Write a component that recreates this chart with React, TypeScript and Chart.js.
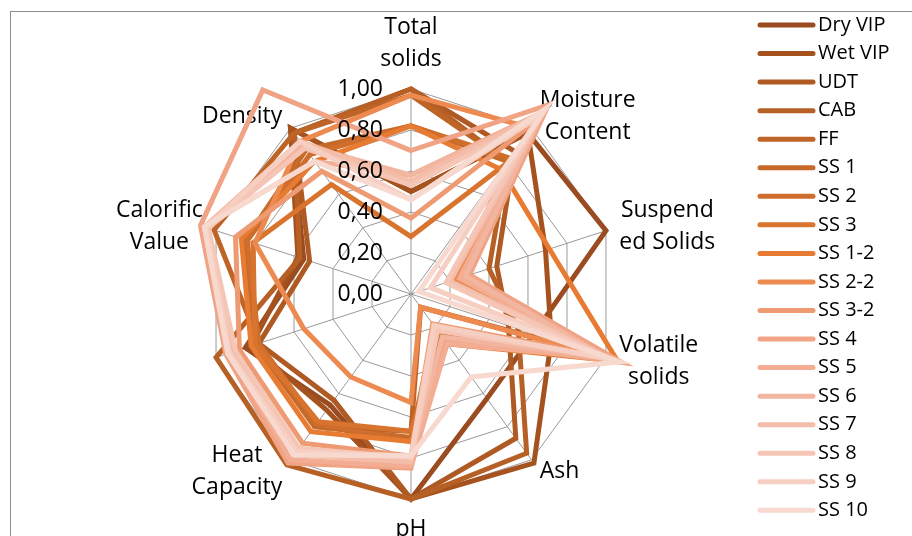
import React, { useEffect, useRef } from "react";
import { Chart, registerables } from "chart.js";

Chart.register(...registerables);

// ---- data ----
const categories: string[][] = [
  ["Total", "solids"],
  ["Moisture", "Content"],
  ["Suspend", "ed Solids"],
  ["Volatile", "solids"],
  ["Ash"],
  ["pH"],
  ["Heat", "Capacity"],
  [""],
  ["Calorific", "Value"],
  ["Density"],
];

const tickValues = [0, 0.2, 0.4, 0.6, 0.8, 1.0];
const tickLabels = ["0,00", "0,20", "0,40", "0,60", "0,80", "1,00"];

const seriesNames = [
  "Dry VIP", "Wet VIP", "UDT", "CAB", "FF", "SS 1", "SS 2", "SS 3", "SS 1-2",
  "SS 2-2", "SS 3-2", "SS 4", "SS 5", "SS 6", "SS 7", "SS 8", "SS 9", "SS 10",
];

const seriesColors = [
  "#9a4b1f", "#a5521f", "#af5a23", "#b76025", "#bf6427", "#c66a2a", "#cf6e2c",
  "#d9742f", "#e87b32", "#ec8a50", "#ee9a72", "#f0a385", "#f2ad92", "#f2b59f",
  "#f4bda9", "#f5c6b5", "#f6cfc2", "#f8d9cf",
];

// values per series, in category order
const dryVIP = [0.50, 0.97, 1.00, 0.63, 0.63, 1.00, 0.67, 0.85, 0.55, 1.00];
const wetVIP = [0.50, 0.97, 0.69, 0.72, 1.02, 1.00, 0.70, 0.82, 0.58, 1.00];
const udt = [1.00, 0.86, 0.44, 0.50, 0.87, 1.00, 0.64, 0.78, 0.52, 0.97];
const cab = [1.00, 0.80, 0.40, 0.55, 0.96, 1.00, 1.03, 1.00, 0.57, 0.97];
const ff = [0.97, 0.80, 0.30, 0.90, 0.08, 0.67, 0.80, 0.78, 1.01, 0.97];
const ss1 = [0.82, 0.80, 0.25, 0.95, 0.20, 0.70, 0.80, 0.80, 0.85, 0.87];
const ss2 = [0.82, 0.82, 0.28, 0.92, 0.22, 0.72, 0.78, 0.78, 0.84, 0.84];
const ss3 = [0.28, 0.78, 0.30, 0.96, 0.25, 0.67, 0.77, 0.80, 0.81, 0.66];
const ss12 = [0.82, 0.75, 0.71, 1.06, 0.30, 0.72, 0.83, 0.82, 0.87, 0.80];
const ss22 = [0.97, 1.00, 0.22, 1.00, 0.08, 0.53, 0.50, 0.55, 0.80, 0.92];
const ss32 = [0.37, 1.05, 0.20, 0.97, 0.18, 0.79, 0.90, 0.88, 0.90, 0.74];
const ss4 = [0.70, 1.14, 0.30, 1.08, 0.27, 0.85, 1.02, 0.95, 1.08, 1.23];
const ss5 = [0.58, 1.10, 0.25, 1.02, 0.30, 0.84, 1.00, 0.93, 1.06, 0.80];
const ss6 = [0.58, 1.08, 0.28, 1.00, 0.26, 0.80, 0.95, 0.92, 1.05, 0.90];
const ss7 = [0.55, 1.10, 0.20, 1.03, 0.20, 0.82, 0.97, 0.94, 1.06, 0.92];
const ss8 = [0.53, 1.06, 0.18, 1.00, 0.22, 0.80, 0.93, 0.90, 1.04, 0.88];
const ss9 = [0.46, 1.08, 0.10, 1.05, 0.19, 0.79, 0.95, 0.93, 1.05, 0.92];
const ss10 = [0.46, 1.12, 0.04, 1.07, 0.50, 0.79, 0.97, 0.94, 1.06, 0.80];

const seriesValues = [
  dryVIP, wetVIP, udt, cab, ff, ss1, ss2, ss3, ss12,
  ss22, ss32, ss4, ss5, ss6, ss7, ss8, ss9, ss10,
];

const FONT = '"Open Sans", "Noto Sans", sans-serif';

const excelPlugin = {
  id: "excelText",
  beforeDatasetsDraw(chart: any) {
    const scale = chart.scales.r;
    const ctx = chart.ctx;
    ctx.save();
    ctx.font = `23px ${FONT}`;
    ctx.fillStyle = "#000";
    ctx.textBaseline = "middle";
    ctx.textAlign = "center";
    const lh = 32;
    const n = categories.length;
    categories.forEach((lines, i) => {
      const p = scale.getPointPosition(i, scale.drawingArea + 14);
      const angle = (360 / n) * i;
      const bw = Math.max(...lines.map((l) => ctx.measureText(l).width));
      let cx = p.x;
      if (angle > 0 && angle < 180) cx = p.x + bw / 2;
      else if (angle > 180) cx = p.x - bw / 2;
      const bh = lines.length * lh;
      let top = p.y - bh / 2;
      if (angle === 0) top = p.y - bh;
      else if (angle === 180) top = p.y;
      lines.forEach((l, k) => ctx.fillText(l, cx, top + lh * k + lh / 2));
    });
    ctx.restore();
  },
  afterDatasetsDraw(chart: any) {
    const scale = chart.scales.r;
    const ctx = chart.ctx;
    ctx.save();
    ctx.font = `23px ${FONT}`;
    ctx.fillStyle = "#000";
    ctx.textBaseline = "middle";
    ctx.textAlign = "right";
    tickValues.forEach((v, k) => {
      const d = scale.getDistanceFromCenterForValue(v);
      ctx.fillText(tickLabels[k], scale.xCenter - 28, scale.yCenter - d);
    });
    // legend
    ctx.font = `20px ${FONT}`;
    ctx.textAlign = "left";
    ctx.lineCap = "round";
    ctx.lineWidth = 5;
    chart.data.datasets.forEach((ds: any, i: number) => {
      const y = 25 + i * 28.55;
      ctx.strokeStyle = ds.borderColor;
      ctx.beginPath();
      ctx.moveTo(760, y);
      ctx.lineTo(813, y);
      ctx.stroke();
      ctx.fillText(ds.label, 818, y);
    });
    ctx.restore();
  },
};

export default function App() {
  const ref = useRef<HTMLCanvasElement | null>(null);
  useEffect(() => {
    if (!ref.current) return;
    const n = seriesNames.length;
    const chart = new Chart(ref.current, {
      type: "radar",
      data: {
        labels: categories,
        datasets: seriesNames.map((name, i) => ({
          label: name,
          data: seriesValues[i],
          borderColor: seriesColors[i],
          backgroundColor: "transparent",
          borderWidth: 5,
          pointRadius: 0,
          pointHoverRadius: 0,
          fill: false,
          tension: 0,
          clip: false as any,
          order: n - 1 - i,
        })),
      },
      options: {
        responsive: false,
        animation: false,
        layout: { padding: { left: 206, right: 296, top: 89, bottom: 37 } },
        plugins: {
          legend: { display: false },
          tooltip: { enabled: false },
        },
        scales: {
          r: {
            min: 0,
            max: 1,
            ticks: { display: false, stepSize: 0.2 },
            grid: { color: "#999999", lineWidth: 1 },
            angleLines: { color: "#999999", lineWidth: 1 },
            pointLabels: { display: false },
          },
        },
      },
      plugins: [excelPlugin],
    });
    return () => chart.destroy();
  }, []);

  return (
    <div style={{ position: "absolute", left: 0, top: 0, width: 912, height: 536, background: "#fff", overflow: "hidden" }}>
      <div
        style={{
          position: "absolute",
          left: 10,
          top: 11,
          width: 920,
          height: 540,
          borderTop: "1px solid #8c8c8c",
          borderLeft: "1px solid #8c8c8c",
        }}
      />
      <canvas ref={ref} width={912} height={536} style={{ position: "absolute", left: 0, top: 0, display: "block" }} />
    </div>
  );
}
